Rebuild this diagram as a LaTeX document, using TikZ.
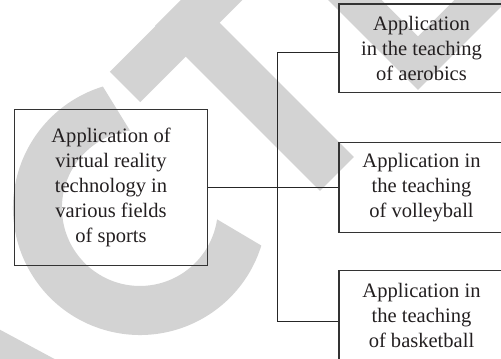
\documentclass[tikz,border=0pt]{standalone}
\usepackage{fontspec}
\setmainfont{Liberation Serif}
\usepackage{tikz}
\usetikzlibrary{positioning}

\definecolor{inkgray}{RGB}{35,31,32}
\definecolor{markgray}{RGB}{211,211,211}

\tikzset{
	boxnode/.style={draw=black!80, line width=1pt, inner sep=0pt, align=center,
		text=inkgray, font=\fontsize{15.4}{18.75}\selectfont},
	mainbox/.style={boxnode, minimum width=144.75pt, minimum height=117pt},
	subbox/.style={boxnode, minimum width=123.75pt, minimum height=67.5pt},
	link/.style={draw=black!85, line width=0.8pt}
}

\begin{document}
\begin{tikzpicture}[x=0.75pt,y=-0.75pt]
	\useasboundingbox (0,0) rectangle (501,359);
	\clip (0,0) rectangle (501,359);
	% watermark letters
	\fill[markgray] (-20,319) -- (75,370) -- (-20,370) -- cycle;
	\fill[markgray] (140,208) ++(17.2:127) arc[start angle=17.2, end angle=253, radius=127]
		-- (130,130.6) arc[start angle=262.7, end angle=8.4, radius=78] -- cycle;
	\draw[markgray, line width=32.25pt] (125,87) -- (250,-38);
	\draw[markgray, line width=36pt] (337,174) -- (172,9);
	\fill[markgray] (418,90) -- (276.6,-51.4) -- (303.5,-78.3) -- (418,36.3)
		-- (559.4,-105.1) -- (559.4,-51.4) -- cycle;
	%
	\node[mainbox] (vrsport) at (111,187.3)
		{Application of\\virtual reality\\technology in\\various fields\\of sports};
	\node[subbox, minimum height=66.5pt] (aerobics) at (421.5,48.3)
		{Application\\in the teaching\\of aerobics};
	\node[subbox] (volleyball) at (421.5,187.3)
		{Application in\\the teaching\\of volleyball};
	\node[subbox] (basketball) at (421.5,315.7)
		{Application in\\the teaching\\of basketball};
	%
	\coordinate (spinetop) at (277.7,52.7);
	\coordinate (spinebot) at (277.7,321.7);
	\draw[link] (vrsport.east) -- (volleyball.west);
	\draw[link] (aerobics.west |- spinetop) -- (spinetop) -- (spinebot) -- (basketball.west |- spinebot);
\end{tikzpicture}
\end{document}
